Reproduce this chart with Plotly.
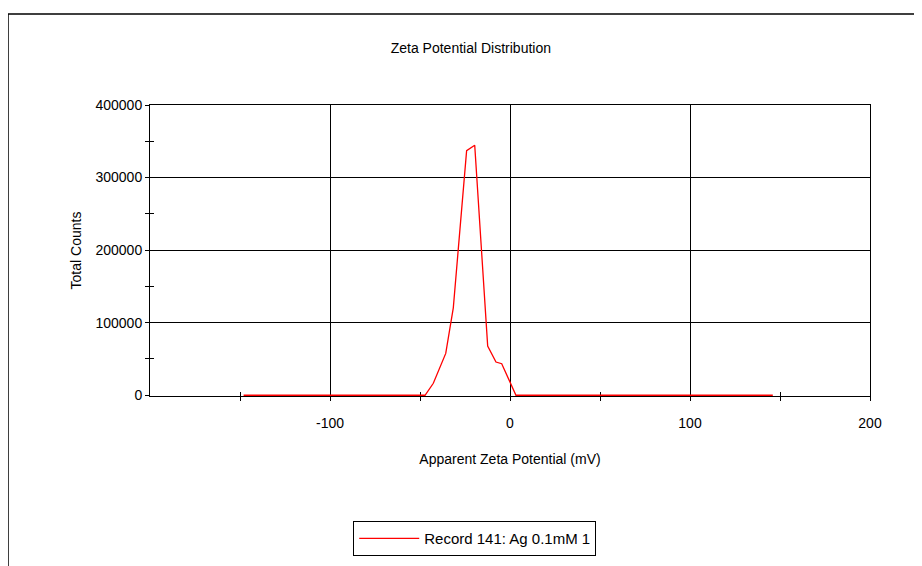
import plotly.graph_objects as go

zeta_mv = [-148, -47.2, -42.6, -35.7, -31.5, -24.1, -19.6, -12.4, -7.8, -4.6, 3.3, 146]
counts = [0, 0, 16500, 57700, 120500, 337000, 344500, 67800, 45800, 43500, 0, 0]

series_name = "Record 141: Ag 0.1mM 1"
x_tickvals = [-100, 0, 100, 200]
x_ticktext = ["-100", "0", "100", "200"]
y_tickvals = [0, 100000, 200000, 300000, 400000]
y_range = [-1000, 400000]

FONT = "Liberation Sans, Arial, sans-serif"

fig = go.Figure()
fig.add_trace(go.Scatter(x=zeta_mv, y=counts, mode="lines", name=series_name,
                         cliponaxis=False,
                         line=dict(color="#ff0000", width=1.3)))
# invisible trace for secondary axes (used to draw crossing tick marks)
fig.add_trace(go.Scatter(x=[-200], y=[0], xaxis="x2", yaxis="y2", mode="lines",
                         showlegend=False, hoverinfo="skip", line=dict(width=0)))

common_x = dict(range=[-200, 200], tickvals=x_tickvals, showline=True, linecolor="black",
                linewidth=1, mirror=True, zeroline=False, layer="below traces")
common_y = dict(range=y_range, tickvals=y_tickvals, showline=True, linecolor="black",
                linewidth=1, mirror=True, zeroline=False, layer="below traces")

fig.update_layout(
    width=922, height=566,
    margin=dict(l=142, r=60, t=97, b=178),
    paper_bgcolor="white", plot_bgcolor="white",
    font=dict(family=FONT, size=14, color="black"),
    title=dict(text="Zeta Potential Distribution", x=0.502, xanchor="center",
               y=0.929, yanchor="middle", font=dict(size=14)),
    xaxis=dict(**common_x, ticktext=x_ticktext, showgrid=True, gridcolor="black", gridwidth=1,
               ticks="outside", ticklen=4, tickcolor="black",
               tickfont=dict(size=14), ticklabelstandoff=10,
               minor=dict(tickvals=[-150, -50, 50, 150], ticks="outside", ticklen=4,
                          tickcolor="black", showgrid=False),
               title=dict(text="Apparent Zeta Potential (mV)", font=dict(size=14), standoff=24)),
    yaxis=dict(**common_y, showgrid=True, gridcolor="black", gridwidth=1,
               ticks="outside", ticklen=4, tickcolor="black",
               tickfont=dict(size=14), tickformat="d",
               minor=dict(tickvals=[50000, 150000, 250000, 350000], ticks="outside",
                          ticklen=4, tickcolor="black", showgrid=False),
               title=dict(text="Total Counts", font=dict(size=14), standoff=10)),
    xaxis2=dict(range=[-200, 200], overlaying="x", showticklabels=False, showgrid=False,
                zeroline=False, tickvals=x_tickvals, ticks="inside", ticklen=4,
                tickcolor="black", layer="below traces",
                minor=dict(tickvals=[-150, -50, 50, 150], ticks="inside", ticklen=4,
                           tickcolor="black")),
    yaxis2=dict(range=y_range, overlaying="y", showticklabels=False, showgrid=False,
                zeroline=False, tickvals=y_tickvals, ticks="inside", ticklen=4,
                tickcolor="black", layer="below traces",
                minor=dict(tickvals=[50000, 150000, 250000, 350000], ticks="inside",
                           ticklen=4, tickcolor="black")),
    showlegend=True,
    legend=dict(x=0.451, y=-0.43, xanchor="center", yanchor="top",
                bordercolor="black", borderwidth=1, bgcolor="white",
                font=dict(size=15), itemwidth=60),
    shapes=[dict(type="rect", xref="paper", yref="paper",
                 x0=-142 / 720, x1=1.2, y0=-0.8, y1=(97 - 6) / 291 + 1,
                 line=dict(color="black", width=1.5), layer="below")],
)

fig.write_html("out.html")
